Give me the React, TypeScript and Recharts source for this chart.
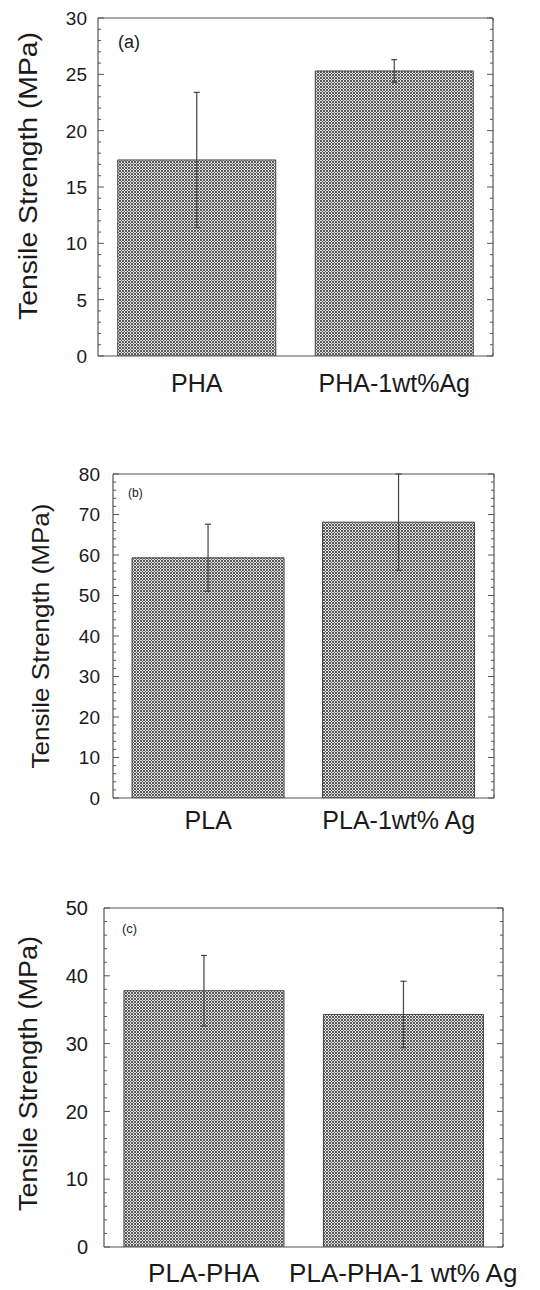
import { BarChart, Bar, XAxis, YAxis, ErrorBar, Label } from 'recharts'

const FONT = '"Liberation Sans", Arial, Helvetica, sans-serif'
const INK = '#1a1a1a'
const FRAME = '#555'

// (a) PHA films
const phaNames = ['PHA', 'PHA-1wt%Ag']
const phaMeans = [17.4, 25.3]
const phaErrors = [6.0, 1.0]
const phaTicks = [0, 5, 10, 15, 20, 25, 30]

// (b) PLA films
const plaNames = ['PLA', 'PLA-1wt% Ag']
const plaMeans = [59.3, 68.1]
const plaErrors = [8.3, 11.9]
const plaTicks = [0, 10, 20, 30, 40, 50, 60, 70, 80]

// (c) PLA-PHA blends
const blendNames = ['PLA-PHA', 'PLA-PHA-1 wt% Ag']
const blendMeans = [37.8, 34.3]
const blendErrors = [5.2, 4.9]
const blendTicks = [0, 10, 20, 30, 40, 50]

const Y_TITLE = 'Tensile Strength (MPa)'

// top/bottom frame ticks: 20 small divisions, one long tick in the middle
const FRAME_STEPS = 20
const frameTicks = Array.from({ length: FRAME_STEPS + 1 }, (_, i) => i)

// majors plus 4 minor ticks in between
function withMinor(majors: number[]) {
  const step = (majors[1] - majors[0]) / 5
  const out: number[] = []
  for (let i = 0; i < majors.length - 1; i++) {
    for (let k = 0; k < 5; k++) out.push(majors[i] + k * step)
  }
  out.push(majors[majors.length - 1])
  return out
}

function FrameTick(props: any) {
  const { x, y, payload, side } = props
  const len = payload.value === FRAME_STEPS / 2 ? 6 : 3
  const dir = side === 'top' ? 1 : -1
  if (payload.value === 0 || payload.value === FRAME_STEPS) return <g />
  return <line x1={x} x2={x} y1={y} y2={y + dir * len} stroke={FRAME} strokeWidth={1} />
}

function LeftTick(props: any) {
  const { x, y, payload, majors, gap, fontSize } = props
  const isMajor = majors.includes(payload.value)
  const axisX = x + gap
  return (
    <g>
      <line x1={axisX} x2={axisX + (isMajor ? 6 : 3)} y1={y} y2={y} stroke={FRAME} strokeWidth={1} />
      {isMajor && (
        <text x={x} y={y} dy="0.36em" textAnchor="end" fontSize={fontSize} fontFamily={FONT} fill={INK}>
          {payload.value}
        </text>
      )}
    </g>
  )
}

function RightTick(props: any) {
  const { x, y, payload, majors } = props
  const len = majors.includes(payload.value) ? 6 : 3
  return <line x1={x - len} x2={x} y1={y} y2={y} stroke={FRAME} strokeWidth={1} />
}

interface PanelProps {
  pid: string
  names: string[]
  means: number[]
  errors: number[]
  majors: number[]
  top: number
  height: number
  margin: { top: number; right: number; bottom: number; left: number }
  yAxisWidth: number
  tickGap: number
  tickFont: number
  catFont: number
  catGap: number
  tag: string
  tagFont: number
  tagX: number
  tagY: number
  titleX: number
  titleShift: number
  titleFont: number
  titleLength: number
}

function Panel(p: PanelProps) {
  const rows = p.names.map((name, i) => ({ name, value: p.means[i], err: p.errors[i] }))
  const yMax = p.majors[p.majors.length - 1]
  const yTicks = withMinor(p.majors)
  const axisLine = { stroke: FRAME, strokeWidth: 1.2 }

  return (
    <div style={{ position: 'absolute', left: 0, top: p.top }}>
      <BarChart width={540} height={p.height} data={rows} margin={p.margin} barCategoryGap="10%">
        <defs>
          <pattern id={p.pid} width={3} height={3} patternUnits="userSpaceOnUse">
            <rect width={3} height={3} fill="#e2e2e2" />
            <rect x={0} y={0} width={1} height={1} fill="#5a5a5a" />
            <rect x={1} y={1} width={1} height={1} fill="#5a5a5a" />
            <rect x={2} y={2} width={1} height={1} fill="#5a5a5a" />
            <rect x={2} y={0} width={1} height={1} fill="#5a5a5a" />
            <rect x={0} y={2} width={1} height={1} fill="#5a5a5a" />
          </pattern>
        </defs>
        {/* frame bottom edge; id 0 so it sits directly under the plot */}
        <XAxis
          xAxisId={0}
          type="number"
          domain={[0, FRAME_STEPS]}
          ticks={frameTicks}
          allowDataOverflow
          height={1}
          tickSize={0}
          tickMargin={0}
          interval={0}
          axisLine={axisLine}
          tickLine={false}
          tick={(t: any) => <FrameTick {...t} side="bottom" />}
        />
        <XAxis
          xAxisId="cat"
          dataKey="name"
          type="category"
          height={40}
          axisLine={false}
          tickLine={false}
          tickSize={0}
          tickMargin={p.catGap}
          interval={0}
          tick={{ fontSize: p.catFont, fill: INK, fontFamily: FONT }}
        />
        <XAxis
          xAxisId="top"
          orientation="top"
          type="number"
          domain={[0, FRAME_STEPS]}
          ticks={frameTicks}
          allowDataOverflow
          height={1}
          tickSize={0}
          tickMargin={0}
          interval={0}
          axisLine={axisLine}
          tickLine={false}
          tick={(t: any) => <FrameTick {...t} side="top" />}
        >
          <Label
            content={(l: any) => (
              <text
                x={l.viewBox.x + p.tagX}
                y={l.viewBox.y + p.tagY}
                dy="0.35em"
                fontSize={p.tagFont}
                fontFamily={FONT}
                fill={INK}
              >
                {p.tag}
              </text>
            )}
          />
        </XAxis>
        <YAxis
          yAxisId={0}
          type="number"
          domain={[0, yMax]}
          ticks={yTicks}
          allowDataOverflow
          width={p.yAxisWidth}
          tickSize={0}
          tickMargin={p.tickGap}
          interval={0}
          axisLine={axisLine}
          tickLine={false}
          tick={(t: any) => <LeftTick {...t} majors={p.majors} gap={p.tickGap} fontSize={p.tickFont} />}
        >
          <Label
            content={(l: any) => {
              const cx = l.viewBox.x + p.titleX
              const cy = l.viewBox.y + l.viewBox.height / 2 + p.titleShift
              return (
                <text
                  x={cx}
                  y={cy}
                  transform={`rotate(-90 ${cx} ${cy})`}
                  textAnchor="middle"
                  dy="0.36em"
                  fontSize={p.titleFont}
                  fontFamily={FONT}
                  fill={INK}
                  textLength={p.titleLength}
                  lengthAdjust="spacingAndGlyphs"
                >
                  {Y_TITLE}
                </text>
              )
            }}
          />
        </YAxis>
        <YAxis
          yAxisId="r"
          orientation="right"
          type="number"
          domain={[0, yMax]}
          ticks={yTicks}
          allowDataOverflow
          width={1}
          tickSize={0}
          tickMargin={0}
          interval={0}
          axisLine={axisLine}
          tickLine={false}
          tick={(t: any) => <RightTick {...t} majors={p.majors} />}
        />
        <Bar
          xAxisId="cat"
          yAxisId={0}
          dataKey="value"
          fill={`url(#${p.pid})`}
          stroke="#444"
          strokeWidth={1}
          isAnimationActive={false}
        >
          <ErrorBar dataKey="err" width={3} stroke="#444" strokeWidth={1.2} isAnimationActive={false} />
        </Bar>
      </BarChart>
    </div>
  )
}

export default function App() {
  return (
    <div style={{ position: 'absolute', left: 0, top: 0, width: 540, height: 1290, background: '#fff' }}>
      <Panel
        pid="hatchA"
        names={phaNames}
        means={phaMeans}
        errors={phaErrors}
        majors={phaTicks}
        top={0}
        height={410}
        margin={{ top: 17, right: 46, bottom: 13, left: 0 }}
        yAxisWidth={98}
        tickGap={11}
        tickFont={19}
        catFont={25}
        catGap={17}
        tag="(a)"
        tagFont={18}
        tagX={20}
        tagY={25}
        titleX={28}
        titleShift={-11}
        titleFont={25}
        titleLength={288}
      />
      <Panel
        pid="hatchB"
        names={plaNames}
        means={plaMeans}
        errors={plaErrors}
        majors={plaTicks}
        top={420}
        height={420}
        margin={{ top: 53, right: 45, bottom: 1, left: 0 }}
        yAxisWidth={113}
        tickGap={13}
        tickFont={19}
        catFont={25}
        catGap={12}
        tag="(b)"
        tagFont={12}
        tagX={15}
        tagY={20}
        titleX={40}
        titleShift={0}
        titleFont={24}
        titleLength={265}
      />
      <Panel
        pid="hatchC"
        names={blendNames}
        means={blendMeans}
        errors={blendErrors}
        majors={blendTicks}
        top={840}
        height={450}
        margin={{ top: 67, right: 36, bottom: 2, left: 0 }}
        yAxisWidth={104}
        tickGap={16}
        tickFont={20}
        catFont={26}
        catGap={16}
        tag="(c)"
        tagFont={13}
        tagX={18}
        tagY={21}
        titleX={28}
        titleShift={-4}
        titleFont={25}
        titleLength={275}
      />
    </div>
  )
}
